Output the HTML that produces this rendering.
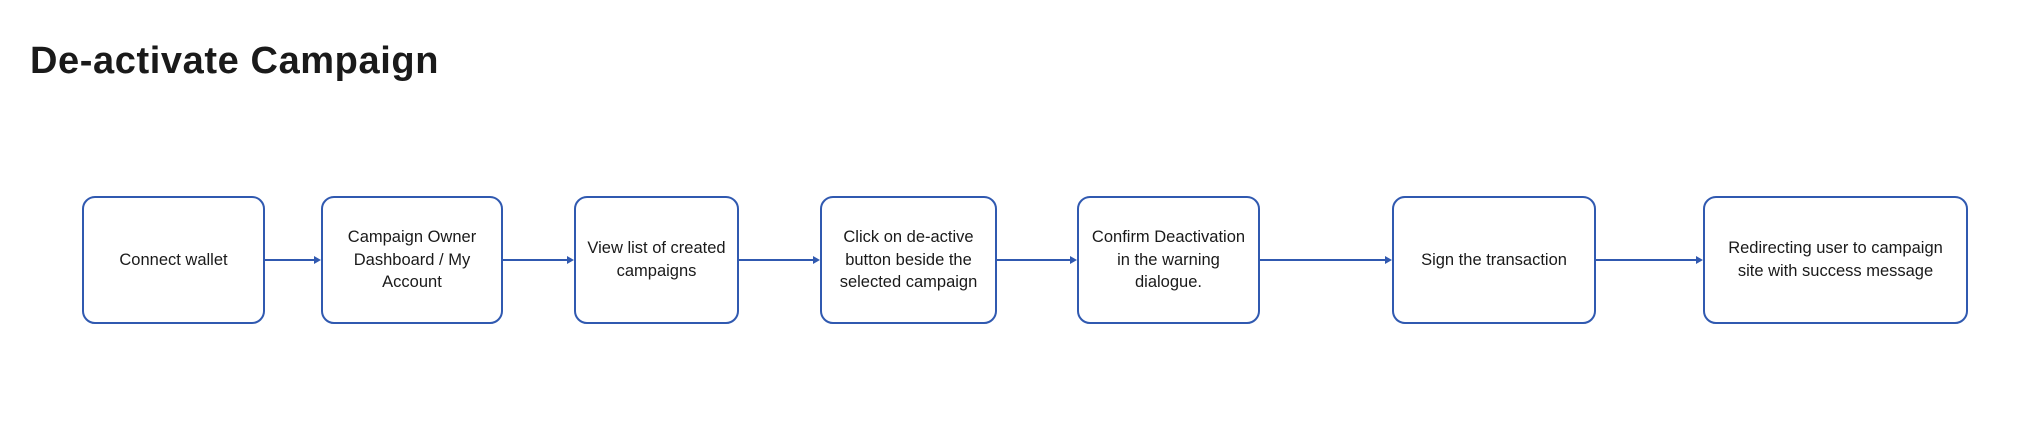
<!DOCTYPE html>
<html><head><meta charset="utf-8"><style>
body{margin:0;width:2020px;height:445px;background:#fff;position:relative;overflow:hidden;font-family:"Liberation Sans",sans-serif;color:#1a1a1a}
h1{position:absolute;left:30px;top:40px;margin:0;font-size:38px;font-weight:bold;letter-spacing:0.6px}
.b{position:absolute;top:196px;height:124px;border:2px solid #3059b0;border-radius:13px;display:flex;align-items:center;justify-content:center;text-align:center;font-size:16.5px;line-height:22.7px;box-sizing:content-box}
</style></head><body>
<h1>De-activate Campaign</h1>
<svg width="2020" height="445" style="position:absolute;left:0;top:0">
<g stroke="#3059b0" stroke-width="2" fill="#3059b0">
<line x1="264" y1="260" x2="316" y2="260"/><polygon points="321,260 314,256 314,264" stroke="none"/>
<line x1="502" y1="260" x2="569" y2="260"/><polygon points="574,260 567,256 567,264" stroke="none"/>
<line x1="738" y1="260" x2="815" y2="260"/><polygon points="820,260 813,256 813,264" stroke="none"/>
<line x1="996" y1="260" x2="1072" y2="260"/><polygon points="1077,260 1070,256 1070,264" stroke="none"/>
<line x1="1259" y1="260" x2="1387" y2="260"/><polygon points="1392,260 1385,256 1385,264" stroke="none"/>
<line x1="1595" y1="260" x2="1698" y2="260"/><polygon points="1703,260 1696,256 1696,264" stroke="none"/>
</g></svg>
<div class="b" style="left:82px;width:179px">Connect wallet</div>
<div class="b" style="left:321px;width:178px">Campaign Owner<br>Dashboard / My<br>Account</div>
<div class="b" style="left:574px;width:161px">View list of created<br>campaigns</div>
<div class="b" style="left:820px;width:173px">Click on de-active<br>button beside the<br>selected campaign</div>
<div class="b" style="left:1077px;width:179px">Confirm Deactivation<br>in the warning<br>dialogue.</div>
<div class="b" style="left:1392px;width:200px">Sign the transaction</div>
<div class="b" style="left:1703px;width:261px">Redirecting user to campaign<br>site with success message</div>
</body></html>
